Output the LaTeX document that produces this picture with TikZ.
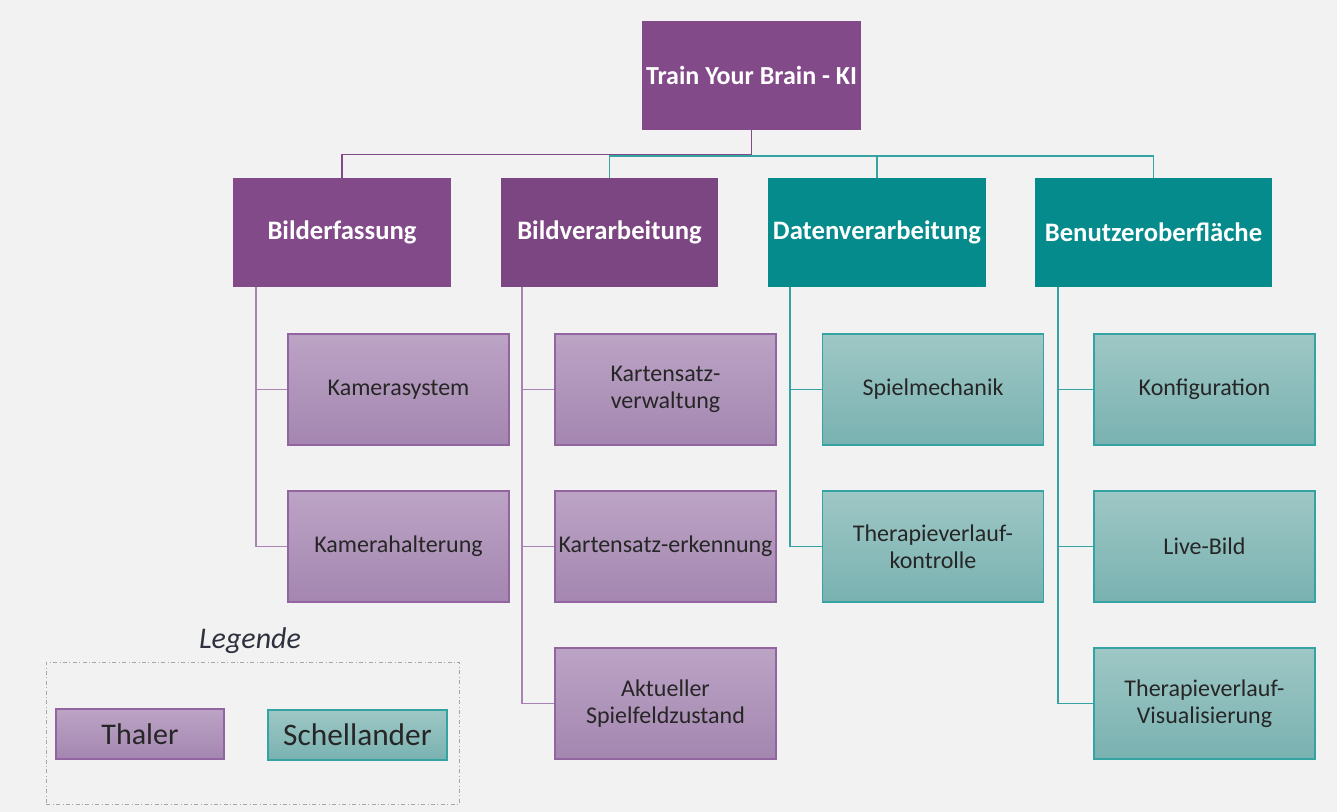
\documentclass[tikz,border=0pt]{standalone}
\usepackage{fontspec}
\setmainfont{Carlito}
\usepackage{tikz}
\usetikzlibrary{positioning,calc}
\usepackage{xcolor}
\definecolor{tyb-bg}{RGB}{242,242,242}
\definecolor{tyb-purple}{RGB}{131,74,137}
\definecolor{tyb-teal}{RGB}{5,139,140}
\definecolor{tyb-purple-top}{RGB}{188,164,197}
\definecolor{tyb-purple-bot}{RGB}{164,134,176}
\definecolor{tyb-purple-line}{RGB}{146,100,160}
\definecolor{tyb-teal-top}{RGB}{158,199,197}
\definecolor{tyb-teal-bot}{RGB}{121,178,177}
\definecolor{tyb-teal-line}{RGB}{52,163,162}
\definecolor{tyb-text}{RGB}{38,38,38}
\definecolor{tyb-legend}{RGB}{45,50,62}

\begin{document}
\begin{tikzpicture}[x=0.75pt, y=-0.75pt,
    headbox/.style={rectangle, minimum height=81.75pt, inner sep=1pt, text=white, font=\fontsize{20}{24}\selectfont\bfseries},
    thaler/.style={rectangle, draw=tyb-purple-line, line width=1pt, top color=tyb-purple-top, bottom color=tyb-purple-bot, inner sep=1pt, align=center, text=tyb-text},
    schell/.style={rectangle, draw=tyb-teal-line, line width=1pt, top color=tyb-teal-top, bottom color=tyb-teal-bot, inner sep=1pt, align=center, text=tyb-text},
    subbox/.style={minimum width=165.75pt, minimum height=83.25pt, font=\fontsize{18}{20.5}\selectfont},
    linkA/.style={draw=tyb-purple, line width=1.1pt},
    linkB/.style={draw=tyb-teal-line, line width=1pt},
    sublinkA/.style={draw=tyb-purple-line!80, line width=1.2pt},
    sublinkB/.style={draw=tyb-teal-line, line width=1.2pt}]

    % Background
    \fill[tyb-bg] (0,0) rectangle (1337,812);

    % Root and main areas
    \node[headbox, fill=tyb-purple, minimum width=164.25pt, font=\fontsize{19.5}{23}\selectfont\bfseries] (root) at (751.5,75.5) {Train Your Brain - KI};
    \node[headbox, fill=tyb-purple, minimum width=163.5pt] (bf) at (342,232.5) {Bilderfassung};
    \node[headbox, fill=tyb-purple!95!black, minimum width=162.75pt] (bv) at (609.5,232.5) {Bildverarbeitung};
    \node[headbox, fill=tyb-teal, minimum width=163.5pt] (dv) at (877,232.5) {Datenverarbeitung};
    \node[headbox, fill=tyb-teal, minimum width=177.75pt] (bo) at (1153.5,232.5) {Benutzeroberfläche};

    % Sub tasks
    \node[thaler, subbox] (kamsys) at (398.5,389.5) {Kamerasystem};
    \node[thaler, subbox] (kamhalt) at (398.5,546.5) {Kamerahalterung};
    \node[thaler, subbox] (ksverw) at (665.5,389.5) {Kartensatz-\\verwaltung};
    \node[thaler, subbox] (kserk) at (665.5,546.5) {Kartensatz-erkennung};
    \node[thaler, subbox] (feld) at (665.5,703.5) {Aktueller\\Spielfeldzustand};
    \node[schell, subbox] (mech) at (933,389.5) {Spielmechanik};
    \node[schell, subbox] (kontr) at (933,546.5) {Therapieverlauf-\\kontrolle};
    \node[schell, subbox] (konf) at (1204.5,389.5) {Konfiguration};
    \node[schell, subbox] (live) at (1204.5,546.5) {Live-Bild};
    \node[schell, subbox] (visu) at (1204.5,703.5) {Therapieverlauf-\\Visualisierung};

    % Connections top level
    \coordinate (bar) at (751.5,156);
    \draw[linkB] (bv.north) |- (bar) -| (bo.north);
    \draw[linkB] (bar -| dv.north) -- (dv.north);
    \draw[linkA] (root.south) -- ++(0,24) -| (bf.north);

    % Connections sub tasks
    \draw[sublinkA] (bf.south west) ++(23,0) coordinate (bfA) |- (kamsys.west);
    \draw[sublinkA] (bfA) |- (kamhalt.west);
    \draw[sublinkA] (bv.south west) ++(21,0) coordinate (bvA) |- (ksverw.west);
    \draw[sublinkA] (bvA) |- (kserk.west);
    \draw[sublinkA] (bvA) |- (feld.west);
    \draw[sublinkB] (dv.south west) ++(22,0) coordinate (dvA) |- (mech.west);
    \draw[sublinkB] (dvA) |- (kontr.west);
    \draw[sublinkB] (bo.south west) ++(23,0) coordinate (boA) |- (konf.west);
    \draw[sublinkB] (boA) |- (live.west);
    \draw[sublinkB] (boA) |- (visu.west);

    % Legend
    \node[font=\fontsize{22.5}{26}\selectfont\itshape, text=tyb-legend] (leghead) at (250,641) {Legende};
    \node[draw=black!35, dash dot, line width=0.6pt, minimum width=309.75pt, minimum height=106.5pt] (legbox) at (252.5,733) {};
    \node[thaler, minimum width=126pt, minimum height=37.5pt, font=\fontsize{22.5}{26}\selectfont] (legA) at (140,734) {Thaler};
    \node[schell, minimum width=134.25pt, minimum height=37.5pt, font=\fontsize{23.5}{27}\selectfont] (legB) at (357.5,735) {Schellander};
\end{tikzpicture}
\end{document}
